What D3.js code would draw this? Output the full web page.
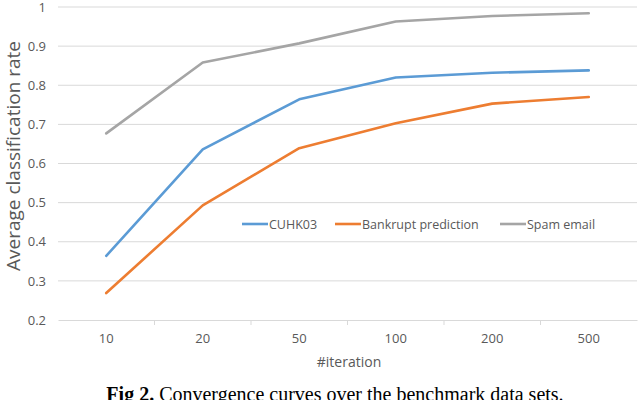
<!DOCTYPE html>
<html><head><meta charset="utf-8">
<script src="https://cdn.jsdelivr.net/npm/d3@7/dist/d3.min.js"></script>
<style>body{margin:0;background:#fff;}svg{display:block;}</style>
</head><body>
<svg id="c" width="640" height="400"></svg>
<script>
const categories = ["10","20","50","100","200","500"];
const cuhk03 = [0.364, 0.636, 0.764, 0.820, 0.832, 0.838];
const bankrupt = [0.269, 0.493, 0.639, 0.703, 0.753, 0.770];
const spam = [0.677, 0.858, 0.907, 0.963, 0.977, 0.984];
const yTicks = [0.2,0.3,0.4,0.5,0.6,0.7,0.8,0.9,1];
const seriesNames = ["CUHK03","Bankrupt prediction","Spam email"];
const colors = ["#5b9bd5","#ed7d31","#a5a5a5"];
const series = [cuhk03, bankrupt, spam];

(function(){
const svg = d3.select("#c");
const mLeft = 58, mRight = 637, mTop = 7, mBottom = 320;
const x = d3.scaleBand().domain(categories).range([mLeft, mRight]);
const y = d3.scaleLinear().domain([0.2, 1]).range([mBottom, mTop]);
const font = "'Open Sans', 'Noto Sans', sans-serif";

// gridlines
svg.append("g").selectAll("line").data(yTicks.slice(1)).join("line")
  .attr("x1", mLeft).attr("x2", mRight)
  .attr("y1", d => y(d)).attr("y2", d => y(d))
  .attr("stroke", "#d9d9d9").attr("stroke-width", 1);

// x axis
const xa = svg.append("g").attr("transform", `translate(0,${mBottom})`)
  .call(d3.axisBottom(x).tickSize(0).tickPadding(14));
xa.select(".domain").attr("stroke", "#d9d9d9");
xa.selectAll("text").attr("font-family", font).attr("font-size", 13).attr("fill", "#595959");
svg.append("g").selectAll("line").data(categories.slice(1)).join("line")
  .attr("x1", d => x(d)).attr("x2", d => x(d))
  .attr("y1", mBottom).attr("y2", mBottom + 5)
  .attr("stroke", "#d9d9d9");

// y axis
const ya = svg.append("g").attr("transform", `translate(${mLeft},0)`)
  .call(d3.axisLeft(y).tickValues(yTicks).tickFormat(d => d === 1 ? "1" : d3.format(".1f")(d)).tickSize(0).tickPadding(12));
ya.select(".domain").remove();
ya.selectAll("text").attr("font-family", font).attr("font-size", 13).attr("fill", "#595959");

// lines
const line = d3.line().x((d, i) => x(categories[i]) + x.bandwidth() / 2).y(d => y(d));
series.forEach((s, i) => {
  svg.append("path").datum(s).attr("d", line)
    .attr("fill", "none").attr("stroke", colors[i]).attr("stroke-width", 2.6)
    .attr("stroke-linejoin", "round").attr("stroke-linecap", "round");
});

// legend
const legendX = [242, 335, 500];
const lg = svg.append("g").attr("transform", "translate(0,224)");
seriesNames.forEach((n, i) => {
  lg.append("line").attr("x1", legendX[i]).attr("x2", legendX[i] + 26)
    .attr("y1", 0).attr("y2", 0).attr("stroke", colors[i]).attr("stroke-width", 2.6);
  lg.append("text").attr("x", legendX[i] + 27).attr("y", 4.5)
    .attr("font-family", font).attr("font-size", 12.5).attr("fill", "#595959").text(n);
});

// axis titles
svg.append("text").attr("transform", "translate(20,156) rotate(-90)")
  .attr("text-anchor", "middle").attr("font-family", font).attr("font-size", 19)
  .attr("fill", "#595959").text("Average classification rate");
svg.append("text").attr("x", 349).attr("y", 367).attr("text-anchor", "middle")
  .attr("font-family", font).attr("font-size", 14).attr("fill", "#595959").text("#iteration");

// caption
const cap = svg.append("text").attr("x", 335).attr("y", 401).attr("text-anchor", "middle")
  .attr("font-family", "'Liberation Serif', 'Times New Roman', serif").attr("font-size", 20).attr("fill", "#000");
cap.append("tspan").attr("font-weight", "bold").text("Fig 2.");
cap.append("tspan").text("  Convergence curves over the benchmark data sets.");
})();
</script>
</body></html>
